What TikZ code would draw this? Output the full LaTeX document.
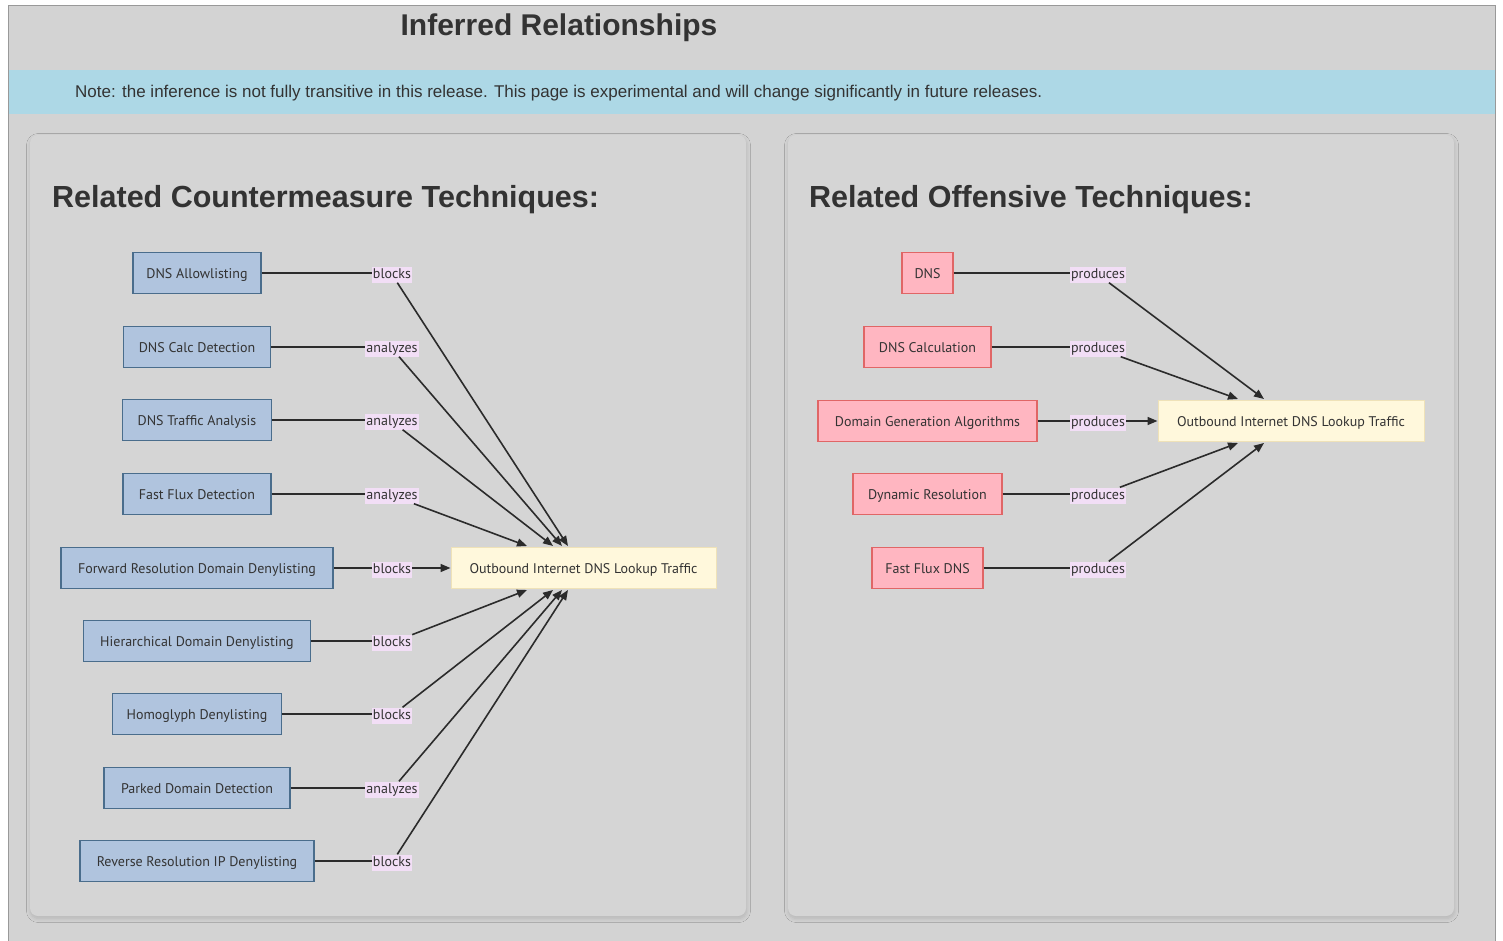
\documentclass[tikz,border=0pt]{standalone}
\usepackage{fontspec}
\setmainfont{Liberation Sans}
\newfontfamily\nodefont{PT Sans}
\usetikzlibrary{arrows.meta,shadows.blur}
\definecolor{bggray}{HTML}{D3D3D3}
\definecolor{panelgray}{HTML}{D5D5D5}
\definecolor{notebar}{HTML}{ADD8E6}
\definecolor{txt}{HTML}{333333}
\definecolor{bluefill}{HTML}{B0C4DE}
\definecolor{blueline}{HTML}{4A6D8C}
\definecolor{redfill}{HTML}{FFB6C1}
\definecolor{redline}{HTML}{E06666}
\definecolor{tgtfill}{HTML}{FFF8DC}
\definecolor{tgtline}{HTML}{EFE2B8}
\definecolor{lblfill}{HTML}{F2DEF6}
\definecolor{edgecol}{HTML}{2B2B2B}
\begin{document}
\begin{tikzpicture}[x=1pt,y=-1pt,
  panel/.style={fill=panelgray, draw=none, rounded corners=8pt,
    blur shadow={shadow xshift=0.5pt, shadow yshift=-2.5pt, shadow blur radius=4pt, shadow blur steps=10, shadow opacity=14}},
  nbase/.style={font=\nodefont\fontsize{14}{16}\selectfont, text=txt, minimum height=41pt,
    text height=11pt, text depth=1pt,
    inner xsep=3pt, inner ysep=2pt, line width=1.3pt},
  bnode/.style={nbase, fill=bluefill, draw=blueline},
  rnode/.style={nbase, fill=redfill, draw=redline},
  tnode/.style={nbase, fill=tgtfill, draw=tgtline, line width=1pt},
  lbl/.style={font=\nodefont\fontsize{14}{16}\selectfont, text=txt, fill=lblfill, inner xsep=1pt, inner ysep=1.5pt,
    text height=10pt, text depth=3pt, yshift=-1.5pt},
  seg/.style={draw=edgecol, line width=1.8pt},
  arr/.style={draw=edgecol, line width=1.6pt, -{Triangle[length=10pt,width=8pt]}},
  heading/.style={font=\bfseries\fontsize{30.5}{34}\selectfont, text=txt, anchor=west, inner sep=0pt}
]
\useasboundingbox (0,0) rectangle (1503,941);
% page frame
\fill[white] (0,0) rectangle (1503,941);
\filldraw[fill=bggray, draw=gray!80, line width=1pt] (8.5,945) -- (8.5,5.5) -- (1495.5,5.5) -- (1495.5,945);
\node[font=\bfseries\fontsize{30}{34}\selectfont, text=txt, inner sep=0pt] (title) at (559,27.5) {Inferred Relationships};
\fill[notebar] (9,70) rectangle (1495,114);
\node[font=\fontsize{17}{20}\selectfont, text=txt, anchor=west, inner sep=0pt] (note) at (75,93.5)
  {Note: the inference is not fully transitive in this release. This page is experimental and will change significantly in future releases.};
% panels
\path[panel] (30,135) rectangle (746,916);
\path[panel] (788,135) rectangle (1454,916);
\node[heading] (hleft) at (52,200) {Related Countermeasure Techniques:};
\node[heading] (hright) at (809,200) {Related Offensive Techniques:};

% ---------- left graph ----------
\node[tnode, minimum width=265pt] (tL) at (583.5,568) {Outbound Internet DNS Lookup Traffic};
\node[bnode, minimum width=128pt] (a1) at (197,273) {DNS Allowlisting};
\node[bnode, minimum width=147pt] (a2) at (197,347) {DNS Calc Detection};
\node[bnode, minimum width=149pt] (a3) at (197,420) {DNS Traffic Analysis};
\node[bnode, minimum width=148pt] (a4) at (197,494) {Fast Flux Detection};
\node[bnode, minimum width=272pt] (a5) at (197,568) {Forward Resolution Domain Denylisting};
\node[bnode, minimum width=227pt] (a6) at (197,641) {Hierarchical Domain Denylisting};
\node[bnode, minimum width=169pt] (a7) at (197,714) {Homoglyph Denylisting};
\node[bnode, minimum width=186pt] (a8) at (197,788) {Parked Domain Detection};
\node[bnode, minimum width=234pt] (a9) at (197,861) {Reverse Resolution IP Denylisting};

\node[lbl] (la1) at (392,273) {blocks};
\node[lbl] (la2) at (392,347) {analyzes};
\node[lbl] (la3) at (392,420) {analyzes};
\node[lbl] (la4) at (392,494) {analyzes};
\node[lbl] (la5) at (392,568) {blocks};
\node[lbl] (la6) at (392,641) {blocks};
\node[lbl] (la7) at (392,714) {blocks};
\node[lbl] (la8) at (392,788) {analyzes};
\node[lbl] (la9) at (392,861) {blocks};

\coordinate (e1) at (568,546);
\coordinate (e2) at (562,546);
\coordinate (e3) at (553,546);
\coordinate (e4) at (527,546);
\coordinate (e6) at (527,590);
\coordinate (e7) at (553,590);
\coordinate (e8) at (562,590);
\coordinate (e9) at (568,590);

\foreach \i in {1,...,9} { \draw[seg] (a\i.east) -- (a\i.east -| la\i.west); }
\foreach \i in {1,2,3,4,6,7,8,9} { \draw[arr] (la\i) -- (e\i); }
\draw[arr] (la5.east |- tL.west) -- (tL.west);

% ---------- right graph ----------
\node[tnode, minimum width=266pt] (tR) at (1291,421) {Outbound Internet DNS Lookup Traffic};
\node[rnode, minimum width=51pt] (b1) at (927.5,273) {DNS};
\node[rnode, minimum width=127pt] (b2) at (927.5,347) {DNS Calculation};
\node[rnode, minimum width=219pt] (b3) at (927.5,421) {Domain Generation Algorithms};
\node[rnode, minimum width=149pt] (b4) at (927.5,494) {Dynamic Resolution};
\node[rnode, minimum width=111pt] (b5) at (927.5,568) {Fast Flux DNS};

\node[lbl] (lb1) at (1098,273) {produces};
\node[lbl] (lb2) at (1098,347) {produces};
\node[lbl] (lb3) at (1098,421) {produces};
\node[lbl] (lb4) at (1098,494) {produces};
\node[lbl] (lb5) at (1098,568) {produces};

\coordinate (f1) at (1264,399);
\coordinate (f2) at (1238,399);
\coordinate (f4) at (1238,443);
\coordinate (f5) at (1264,443);

\foreach \i in {1,...,5} { \draw[seg] (b\i.east) -- (b\i.east -| lb\i.west); }
\foreach \i in {1,2,4,5} { \draw[arr] (lb\i) -- (f\i); }
\draw[arr] (lb3.east |- tR.west) -- (tR.west);
\end{tikzpicture}
\end{document}
